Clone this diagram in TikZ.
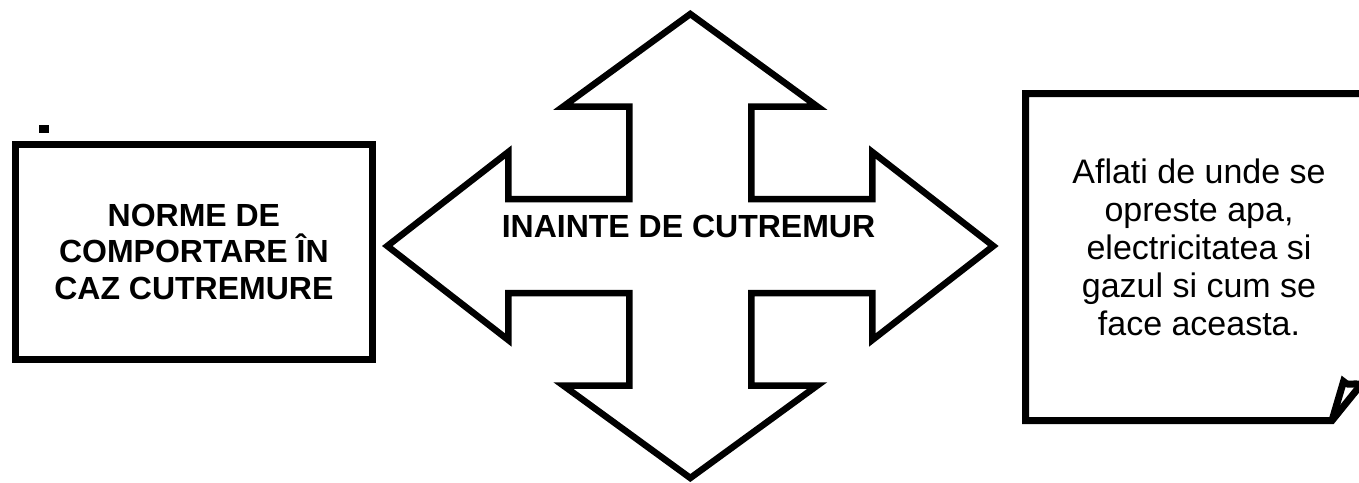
\documentclass[tikz,border=0pt]{standalone}
\usepackage{fontspec}
\setmainfont{Liberation Sans}
\begin{document}
\begin{tikzpicture}[x=1pt,y=-1pt,
  boxline/.style={line width=7pt, line join=miter},
  arrowline/.style={line width=6.5pt, line join=miter, miter limit=10},
  boldtxt/.style={font=\fontsize{32}{36.5}\selectfont\bfseries, align=center},
  plaintxt/.style={font=\fontsize{34}{38}\selectfont, align=center}]
\useasboundingbox (0,0) rectangle (1359,482);
\clip (0,0) rectangle (1359,482);
% small dot
\node[fill=black, minimum width=10pt, minimum height=8pt, inner sep=0pt] (dot) at (44,129) {};
% left box
\node[draw, boxline, boldtxt, minimum width=357.2pt, minimum height=215.5pt, inner sep=0pt] (norme) at (193.9,251.75)
  {NORME DE\\COMPORTARE ÎN\\CAZ CUTREMURE};
% quad arrow
\def\cx{690.3}\def\cy{246}
\draw[arrowline]
  (\cx,\cy-232) -- (\cx+127,\cy-139.5) -- (\cx+61,\cy-139.5) -- (\cx+61,\cy-47)
  -- (\cx+182,\cy-47) -- (\cx+182,\cy-94) -- (\cx+303,\cy) -- (\cx+182,\cy+94)
  -- (\cx+182,\cy+47) -- (\cx+61,\cy+47) -- (\cx+61,\cy+139.5) -- (\cx+127,\cy+139.5)
  -- (\cx,\cy+232) -- (\cx-127,\cy+139.5) -- (\cx-61,\cy+139.5) -- (\cx-61,\cy+47)
  -- (\cx-182,\cy+47) -- (\cx-182,\cy+94) -- (\cx-303,\cy) -- (\cx-182,\cy-94)
  -- (\cx-182,\cy-47) -- (\cx-61,\cy-47) -- (\cx-61,\cy-139.5) -- (\cx-127,\cy-139.5)
  -- cycle;
\node[boldtxt, inner sep=0pt] (inainte) at (688.5,226) {INAINTE DE CUTREMUR};
% right note box with folded corner
\draw[boxline] (1370,93.5) -- (1025.5,93.5) -- (1025.5,420.5) -- (1332,420.5) -- (1368,376);
\draw[boxline] (1332,420.5) -- (1343.5,381.5) .. controls (1350,388) and (1354,380) .. (1366,387);
\node[plaintxt, inner sep=0pt] (aflati) at (1199,247)
  {Aflati de unde se\\opreste apa,\\electricitatea si\\gazul si cum se\\face aceasta.};
\end{tikzpicture}
\end{document}
